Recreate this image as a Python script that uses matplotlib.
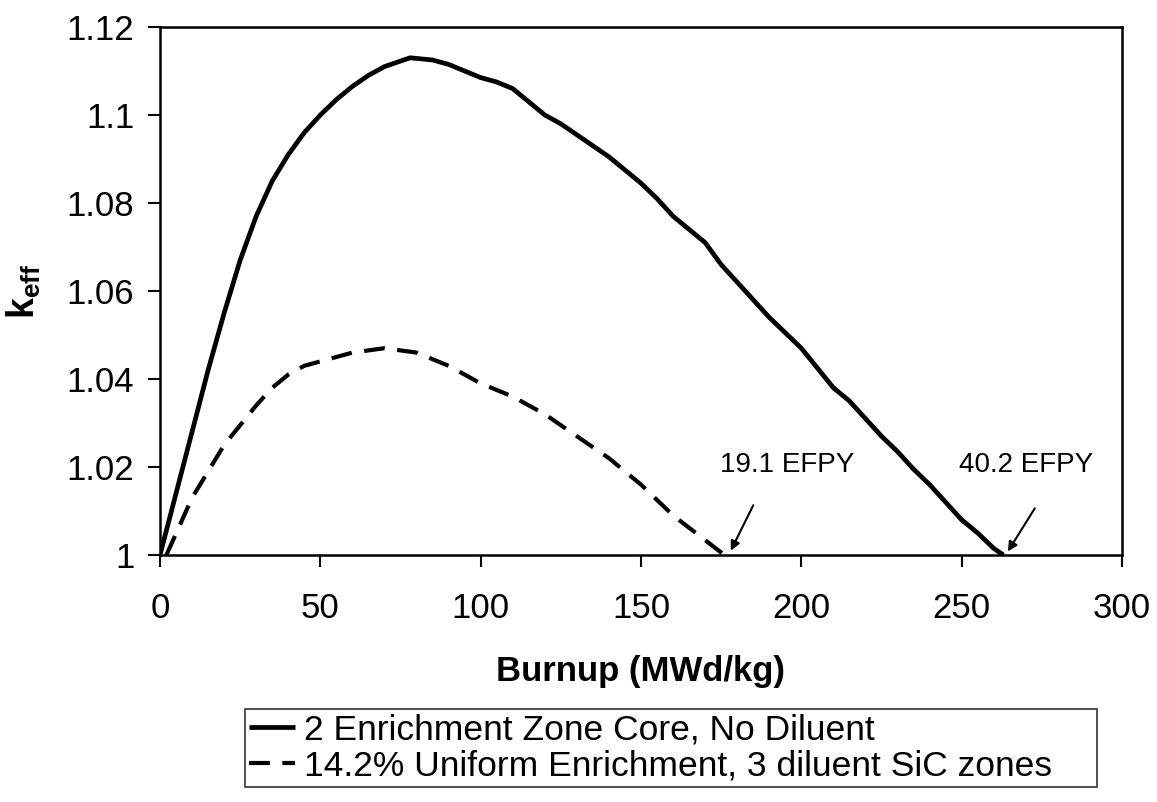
import matplotlib.pyplot as plt

plt.rcParams['font.family'] = ['Liberation Sans', 'DejaVu Sans']
plt.rcParams['mathtext.fontset'] = 'custom'
plt.rcParams['mathtext.rm'] = 'Liberation Sans'
plt.rcParams['mathtext.bf'] = 'Liberation Sans:bold'

# 2 enrichment zone core, no diluent
burnup_a = [0, 5, 10, 15, 20, 25, 30, 35, 40, 45, 50, 55, 60, 65, 70, 78, 85, 90,
            95, 100, 105, 110, 115, 120, 125, 130, 135, 140, 145, 150, 155, 160,
            165, 170, 175, 180, 185, 190, 195, 200, 205, 210, 215, 220, 225, 230,
            235, 240, 245, 250, 255, 260, 263]
keff_a = [1.0, 1.014, 1.028, 1.042, 1.055, 1.067, 1.077, 1.085, 1.091, 1.096,
          1.1, 1.1035, 1.1065, 1.109, 1.111, 1.113, 1.1125, 1.1115, 1.110, 1.1085,
          1.1075, 1.106, 1.103, 1.1, 1.098, 1.0955, 1.093, 1.0905, 1.0875, 1.0845,
          1.081, 1.077, 1.074, 1.071, 1.066, 1.062, 1.058, 1.054, 1.0505, 1.047,
          1.0425, 1.038, 1.035, 1.031, 1.027, 1.0235, 1.0195, 1.016, 1.012, 1.008,
          1.005, 1.0015, 1.0]

# 14.2% uniform enrichment, 3 diluent SiC zones
burnup_b = [2, 10, 20, 30, 35, 40, 45, 50, 60, 70, 80, 90, 100, 110, 120, 130,
            140, 150, 160, 168, 176]
keff_b = [1.0, 1.013, 1.025, 1.034, 1.038, 1.041, 1.043, 1.044, 1.046, 1.047,
          1.046, 1.043, 1.039, 1.036, 1.032, 1.027, 1.022, 1.016, 1.009, 1.0045,
          1.0]

fig = plt.figure(figsize=(11.57, 8.02), dpi=100)
ax = fig.add_axes([160/1157, 1-555/802, (1122-160)/1157, (555-27)/802])

ax.plot(burnup_a, keff_a, color='black', lw=3.4, solid_capstyle='butt',
        label='2 Enrichment Zone Core, No Diluent')
ax.plot(burnup_b, keff_b, color='black', lw=3.0, dashes=(5, 3.0),
        label='14.2% Uniform Enrichment, 3 diluent SiC zones')

arrow = dict(arrowstyle='-|>', color='black', lw=1.5, mutation_scale=14,
             shrinkA=0, shrinkB=0)
ax.annotate('', xy=(178, 1.001), xytext=(185, 1.0113), arrowprops=arrow)
ax.annotate('', xy=(264.4, 1.0008), xytext=(272.8, 1.0106), arrowprops=arrow)
ax.text(195.5, 1.0205, '19.1 EFPY', fontsize=20, ha='center', va='center')
ax.text(270, 1.0205, '40.2 EFPY', fontsize=20, ha='center', va='center')

ax.set_xlim(0, 300)
ax.set_ylim(1.0, 1.12)
ax.set_xticks([0, 50, 100, 150, 200, 250, 300])
ax.set_yticks([1, 1.02, 1.04, 1.06, 1.08, 1.1, 1.12])
ax.set_yticklabels(['1', '1.02', '1.04', '1.06', '1.08', '1.1', '1.12'])
ax.tick_params(axis='both', direction='out', length=8.5, width=1.5, labelsize=25)
ax.tick_params(axis='x', pad=18)
ax.tick_params(axis='y', pad=10)
for sp in ax.spines.values():
    sp.set_linewidth(1.8)
    sp.set_color('black')

ax.set_xlabel('Burnup (MWd/kg)', fontsize=25, fontweight='bold', labelpad=22)
ax.set_ylabel(r'$\mathbf{k}_{\mathbf{eff}}$', fontsize=27)
ax.yaxis.set_label_coords(-0.122, 0.5)

leg = fig.legend(loc='upper left',
                 bbox_to_anchor=(245/1157, 2/802, (1097-245)/1157, (800-709)/802),
                 mode='expand', fontsize=25.5, frameon=True, fancybox=False,
                 edgecolor='black', handlelength=1.3, handletextpad=0.25,
                 labelspacing=0.1, borderpad=0.12, borderaxespad=0)
leg.get_frame().set_linewidth(1.2)

fig.savefig('out.png', dpi=100)
